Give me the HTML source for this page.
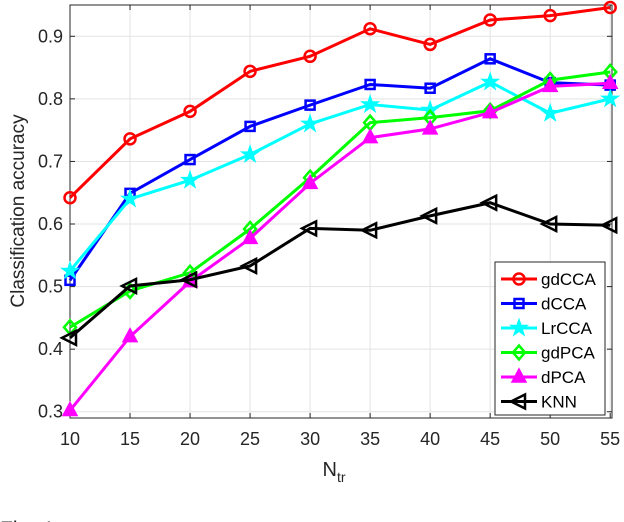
<!DOCTYPE html>
<html><head><meta charset="utf-8"><style>
body{margin:0;background:#fff;}
svg{display:block;font-family:"Liberation Sans",sans-serif;}
</style></head><body>
<svg id="chart" width="624" height="522"></svg>
<script>
const categories=[10,15,20,25,30,35,40,45,50,55];
const gdCCA=[0.642,0.736,0.780,0.844,0.868,0.912,0.887,0.926,0.933,0.946];
const dCCA=[0.510,0.649,0.703,0.756,0.790,0.823,0.817,0.864,0.826,0.822];
const LrCCA=[0.525,0.640,0.670,0.711,0.760,0.791,0.782,0.827,0.777,0.800];
const gdPCA=[0.435,0.493,0.522,0.592,0.674,0.762,0.770,0.781,0.830,0.843];
const dPCA=[0.302,0.420,0.508,0.577,0.665,0.738,0.752,0.778,0.820,0.825];
const KNN=[0.418,0.501,0.511,0.533,0.593,0.590,0.613,0.634,0.600,0.598];
const xTicks=[10,15,20,25,30,35,40,45,50,55];
const yTicks=[0.3,0.4,0.5,0.6,0.7,0.8,0.9];
const seriesNames=["gdCCA","dCCA","LrCCA","gdPCA","dPCA","KNN"];
const seriesData=[gdCCA,dCCA,LrCCA,gdPCA,dPCA,KNN];
const colors=["#ff0000","#0000ff","#00ffff","#00ff00","#ff00ff","#000000"];
const markers=["circle","square","star","diamond","triangle","left"];

const L=70,R=612,T=5,B=418;
const xmin=10,xmax=55.15,ymin=0.29,ymax=0.95;
const X=v=>L+(v-xmin)/(xmax-xmin)*(R-L);
const Y=v=>B-(v-ymin)/(ymax-ymin)*(B-T);
const svg=document.getElementById('chart');
const NS="http://www.w3.org/2000/svg";
function mk(tag,attrs,parent){const e=document.createElementNS(NS,tag);for(const k in attrs)e.setAttribute(k,attrs[k]);(parent||svg).appendChild(e);return e;}

xTicks.forEach(t=>{const l=mk('line',{x1:X(t),x2:X(t),y1:T,y2:B,stroke:'#e3e3e3','stroke-width':1});
});
yTicks.forEach(t=>{const l=mk('line',{x1:L,x2:R,y1:Y(t),y2:Y(t),stroke:'#e3e3e3','stroke-width':1});
});
const box=mk('rect',{x:L,y:T,width:R-L,height:B-T,fill:'none',stroke:'#262626','stroke-width':1});

xTicks.forEach(t=>{
 mk('line',{x1:X(t),x2:X(t),y1:B,y2:B-5,stroke:'#262626'});
 mk('line',{x1:X(t),x2:X(t),y1:T,y2:T+5,stroke:'#262626'});
 const tx=mk('text',{x:X(t),y:B+27,'text-anchor':'middle','font-size':18,fill:'#262626'});tx.textContent=t;
 
});
yTicks.forEach(t=>{
 mk('line',{x1:L,x2:L+5,y1:Y(t),y2:Y(t),stroke:'#262626'});
 mk('line',{x1:R,x2:R-5,y1:Y(t),y2:Y(t),stroke:'#262626'});
 const tx=mk('text',{x:L-7,y:Y(t)+6,'text-anchor':'end','font-size':18,fill:'#262626'});tx.textContent=t.toFixed(1);
 
});
const xt=mk('text',{x:334,y:476,'text-anchor':'middle','font-size':20,fill:'#262626'});
xt.innerHTML='N<tspan font-size="14" dy="6">tr</tspan>';

const yt=mk('text',{x:0,y:0,'text-anchor':'middle','font-size':19,fill:'#262626',transform:'translate(24,211) rotate(-90)'});
yt.textContent='Classification accuracy';

const fig=mk('text',{x:0,y:536,'font-size':21,fill:'#222'});fig.textContent='Fig. 4';


function marker(type,cx,cy,c,g){
 if(type==='circle')return mk('circle',{cx,cy,r:5.5,fill:'none',stroke:c,'stroke-width':2.5},g);
 if(type==='square')return mk('rect',{x:cx-4.5,y:cy-4.5,width:9,height:9,fill:'none',stroke:c,'stroke-width':2.5},g);
 if(type==='diamond')return mk('polygon',{points:`${cx},${cy-7} ${cx+6},${cy} ${cx},${cy+7} ${cx-6},${cy}`,fill:'none',stroke:c,'stroke-width':2.5},g);
 if(type==='triangle')return mk('polygon',{points:`${cx},${cy-8} ${cx+7},${cy+5} ${cx-7},${cy+5}`,fill:c,stroke:c,'stroke-width':1.5},g);
 if(type==='left')return mk('polygon',{points:`${cx-8},${cy} ${cx+6},${cy-7} ${cx+6},${cy+7}`,fill:'none',stroke:c,'stroke-width':2.5},g);
 if(type==='star'){let p=[];for(let i=0;i<10;i++){const r=i%2?3.5:9;const a=-Math.PI/2+i*Math.PI/5;p.push((cx+r*Math.cos(a)).toFixed(1)+','+(cy+r*Math.sin(a)).toFixed(1));}
  return mk('polygon',{points:p.join(' '),fill:c,stroke:c,'stroke-width':1},g);}
}
seriesData.forEach((d,i)=>{
 const g=mk('g',{});
 
 
 mk('polyline',{points:d.map((v,j)=>X(categories[j])+','+Y(v)).join(' '),fill:'none',stroke:colors[i],'stroke-width':3},g);
 d.forEach((v,j)=>{const m=marker(markers[i],X(categories[j]),Y(v),colors[i],g);
  
  });
});
const lg=mk('g',{});

mk('rect',{x:495,y:262,width:110,height:153,fill:'#fff',stroke:'#262626','stroke-width':1},lg);
seriesNames.forEach((n,i)=>{
 const cy=279+i*24.5;
 const e=mk('g',{},lg);
 
 mk('line',{x1:501,x2:537,y1:cy,y2:cy,stroke:colors[i],'stroke-width':3},e);
 marker(markers[i],519,cy,colors[i],e);
 const t=mk('text',{x:541,y:cy+6,'font-size':17,fill:'#000'},e);t.textContent=n;
});
</script>
</body></html>
